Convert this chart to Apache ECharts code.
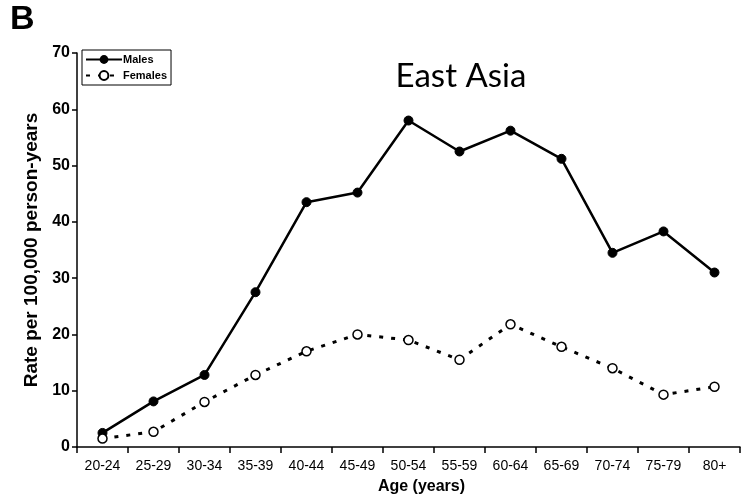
<!DOCTYPE html>
<html><head><meta charset="utf-8">
<script src="https://cdn.jsdelivr.net/npm/echarts@6/dist/echarts.min.js"></script>
<style>html,body{margin:0;padding:0;background:#fff}#c{width:741px;height:503px}</style>
</head><body><div id="c"></div>
<script>
var categories = ['20-24','25-29','30-34','35-39','40-44','45-49','50-54','55-59','60-64','65-69','70-74','75-79','80+'];
var males = [2.5, 8.1, 12.8, 27.5, 43.5, 45.2, 58.0, 52.5, 56.2, 51.2, 34.5, 38.3, 31.0];
var females = [1.5, 2.7, 8.0, 12.8, 17.0, 20.0, 19.0, 15.5, 21.8, 17.8, 14.0, 9.3, 10.7];
var yTicks = [0, 10, 20, 30, 40, 50, 60, 70];

var chart = echarts.init(document.getElementById('c'));
var F = 'Liberation Sans, Arial, sans-serif';
chart.setOption({
  animation: false,
  backgroundColor: '#fff',
  title: [
    {text: 'B', left: 5, top: -2, textStyle: {fontFamily: F, fontWeight: 'bold', fontSize: 34, color: '#000'}},
    {text: 'East Asia', left: 456, top: 55, textAlign: 'center', textStyle: {fontFamily: 'Lato, Open Sans, sans-serif', fontWeight: 'normal', fontSize: 33, color: '#000'}}
  ],
  legend: {
    left: 82, top: 50, orient: 'vertical', itemGap: 5, itemWidth: 36, itemHeight: 11,
    borderColor: '#000', borderWidth: 1, padding: [4, 4, 4, 3],
    textStyle: {fontFamily: F, fontWeight: 'bold', fontSize: 11, color: '#000', padding: [0,0,0,-4]},
    data: ['Males', 'Females']
  },
  grid: {left: 77, right: 1, top: 53, bottom: 56, containLabel: false},
  xAxis: {
    type: 'category', data: categories, boundaryGap: true,
    name: 'Age (years)', nameLocation: 'middle', nameGap: 32,
    nameTextStyle: {fontFamily: F, fontWeight: 'bold', fontSize: 16, color: '#000', padding: [0, 0, 0, 26]},
    axisLine: {lineStyle: {color: '#000', width: 1.5}},
    axisTick: {show: true, length: 6, lineStyle: {color: '#000', width: 1.5}},
    axisLabel: {fontFamily: F, fontSize: 14, color: '#000', margin: 12, interval: 0},
    splitLine: {show: false}
  },
  yAxis: {
    type: 'value', min: 0, max: 70, interval: 10,
    name: 'Rate per 100,000 person-years', nameLocation: 'middle', nameGap: 36,
    nameTextStyle: {fontFamily: F, fontWeight: 'bold', fontSize: 19, color: '#000'},
    axisLine: {show: true, lineStyle: {color: '#000', width: 1.5}},
    axisTick: {show: true, length: 5, lineStyle: {color: '#000', width: 1.5}},
    axisLabel: {fontFamily: F, fontWeight: 'bold', fontSize: 16, color: '#000', margin: 7,
      formatter: function (v) { return yTicks.indexOf(v) >= 0 ? String(v) : ''; }},
    splitLine: {show: false}
  },
  series: [
    {name: 'Males', type: 'line', data: males, symbol: 'circle', symbolSize: 9,
     lineStyle: {color: '#000', width: 2.5}, itemStyle: {color: '#000', borderColor: '#000'}},
    {name: 'Females', type: 'line', data: females, symbol: 'circle', symbolSize: 9,
     lineStyle: {color: '#000', width: 3, type: [4, 8]}, itemStyle: {color: '#fff', borderColor: '#000', borderWidth: 1.5}}
  ]
});
</script></body></html>
